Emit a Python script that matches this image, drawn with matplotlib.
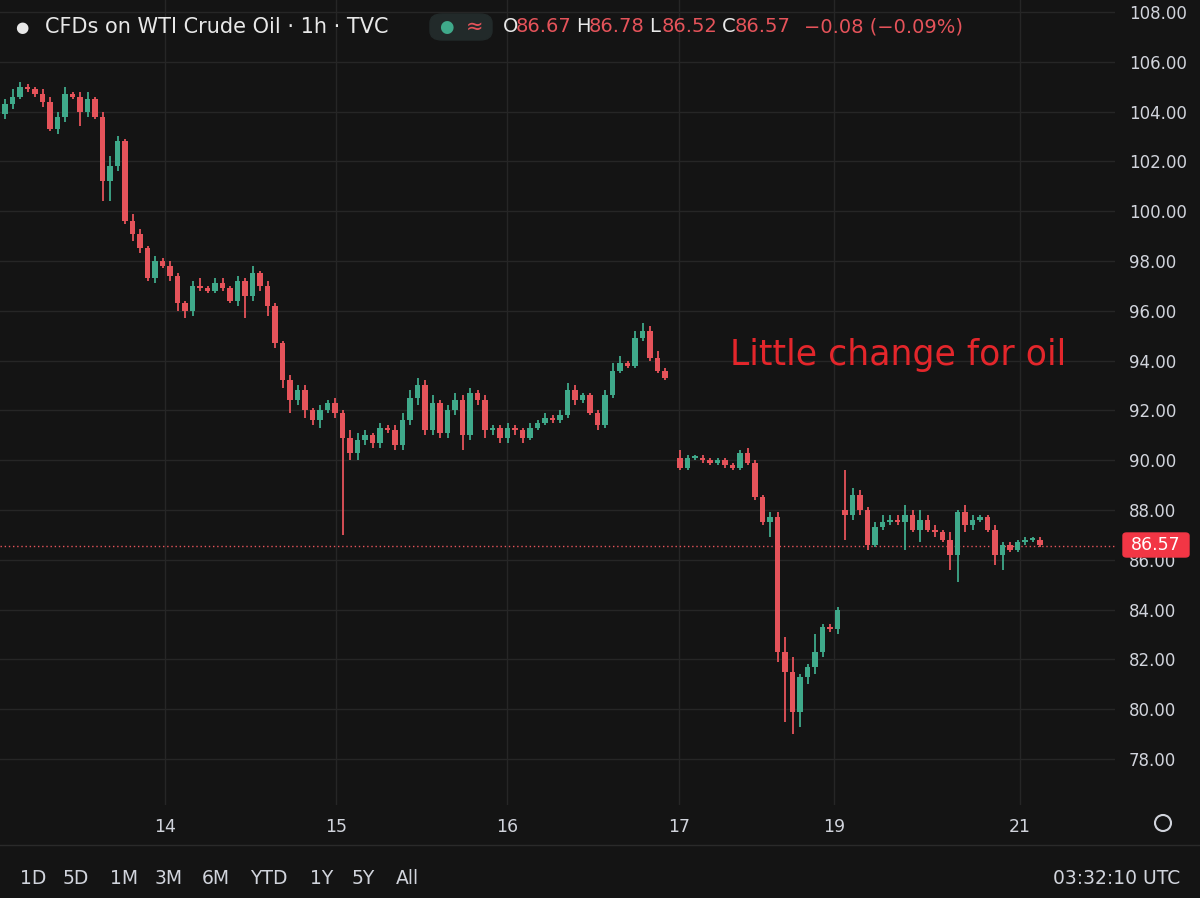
import numpy as np
import matplotlib.pyplot as plt
from matplotlib.patches import FancyBboxPatch, Ellipse

# hourly candles (index = candle slot)
closes = [104.3, 104.6, 105.0, 104.9, 104.7, 104.4, 103.3, 103.8, 104.7, 104.6,
          104.0, 104.5, 103.8, 101.2, 101.8, 102.8, 99.6, 99.1, 98.5, 97.3,
          98.0, 97.8, 97.4, 96.3, 96.0, 97.0, 96.9, 96.8, 97.1, 96.9,
          96.4, 97.2, 96.6, 97.5, 97.0, 96.2, 94.7, 93.2, 92.4, 92.8,
          92.0, 91.6, 92.0, 92.3, 91.9, 90.9, 90.3, 90.8, 91.0, 90.7,
          91.3, 91.2, 90.6, 91.6, 92.5, 93.0, 91.2, 92.3, 91.1, 92.0,
          92.4, 91.0, 92.7, 92.4, 91.2, 91.3, 90.9, 91.3, 91.2, 90.9,
          91.3, 91.5, 91.7, 91.6, 91.8, 92.8, 92.4, 92.6, 91.9, 91.4,
          92.6, 93.6, 93.9, 93.8, 94.9, 95.2, 94.1, 93.6, 93.3,
          89.7, 90.1, 90.1, 90.0, 89.9, 90.0, 89.8, 89.7, 90.3, 89.9,
          88.5, 87.5, 87.7, 82.3, 81.5, 79.9, 81.3, 81.7, 82.3,
          83.3, 83.2, 84.0,
          87.8, 88.6, 88.0, 86.6, 87.3, 87.5, 87.6, 87.5, 87.8, 87.2,
          87.6, 87.2, 87.1, 86.8, 86.2, 87.9, 87.4, 87.6, 87.7, 87.2,
          86.2, 86.6, 86.4, 86.7, 86.8, 86.8, 86.6]
# opens where the session gaps (otherwise open = previous close)
gap_opens = {0: 103.9, 89: 90.1, 111: 88.0}
highs_add = [0.2, 0.3, 0.2, 0.1, 0.1, 0.2, 0.2, 0.2, 0.3, 0.1,
             0.2, 0.3, 0.1, 0.2, 0.4, 0.2, 0.1, 0.3, 0.2, 0.1,
             0.2, 0.1, 0.2, 0.1, 0.1, 0.2, 0.3, 0.1, 0.2, 0.2,
             0.1, 0.2, 0.1, 0.3, 0.1, 0.2, 0.1, 0.1, 0.2, 0.2,
             0.2, 0.1, 0.2, 0.1, 0.2, 0.1, 0.3, 0.3, 0.2, 0.1,
             0.2, 0.1, 0.2, 0.3, 0.3, 0.3, 0.2, 0.3, 0.1, 0.2,
             0.3, 0.2, 0.2, 0.1, 0.2, 0.1, 0.1, 0.2, 0.1, 0.1,
             0.2, 0.1, 0.2, 0.1, 0.2, 0.3, 0.2, 0.1, 0.1, 0.1,
             0.2, 0.3, 0.3, 0.1, 0.3, 0.3, 0.2, 0.3, 0.1,
             0.3, 0.1, 0.1, 0.1, 0.1, 0.1, 0.1, 0.1, 0.1, 0.2,
             0.1, 0.1, 0.2, 0.2, 0.6, 0.6, 0.1, 0.1, 0.7,
             0.1, 0.1, 0.1,
             1.6, 0.3, 0.2, 0.1, 0.2, 0.3, 0.2, 0.2, 0.4, 0.2,
             0.4, 0.2, 0.2, 0.1, 0.3, 0.1, 0.3, 0.2, 0.1, 0.1,
             0.2, 0.1, 0.1, 0.1, 0.1, 0.1, 0.1]
lows_sub = [0.2, 0.2, 0.1, 0.1, 0.1, 0.2, 0.1, 0.2, 0.2, 0.1,
            0.6, 0.2, 0.1, 0.8, 0.8, 0.2, 0.1, 0.3, 0.2, 0.1,
            0.2, 0.1, 0.2, 0.3, 0.3, 0.2, 0.1, 0.1, 0.1, 0.1,
            0.1, 0.2, 0.9, 0.2, 0.2, 0.4, 0.2, 0.3, 0.5, 0.2,
            0.3, 0.2, 0.3, 0.1, 0.2, 3.9, 0.3, 0.3, 0.2, 0.2,
            0.2, 0.1, 0.2, 0.2, 0.2, 0.3, 0.2, 0.2, 0.2, 0.2,
            0.2, 0.6, 0.2, 0.2, 0.3, 0.2, 0.2, 0.2, 0.2, 0.2,
            0.1, 0.1, 0.1, 0.1, 0.1, 0.1, 0.2, 0.1, 0.1, 0.2,
            0.1, 0.1, 0.1, 0.1, 0.1, 0.1, 0.1, 0.1, 0.1,
            0.1, 0.1, 0.1, 0.1, 0.1, 0.1, 0.1, 0.1, 0.1, 0.1,
            0.1, 0.1, 0.6, 0.4, 2.0, 0.9, 0.6, 0.3, 0.3,
            0.2, 0.1, 0.2,
            1.0, 0.2, 0.2, 0.2, 0.1, 0.1, 0.1, 0.1, 1.1, 0.1,
            0.5, 0.1, 0.2, 0.1, 0.6, 1.1, 0.3, 0.2, 0.1, 0.1,
            0.4, 0.6, 0.1, 0.1, 0.1, 0.1, 0.1]

# candle slot of each bar (session gaps leave an empty slot)
slots = list(range(0, 89)) + list(range(90, 112)) + list(range(112, 139))
day_ticks = [21.3, 44.1, 66.9, 89.9, 110.5, 135.3]
day_labels = ['14', '15', '16', '17', '19', '21']
price_ticks = np.arange(78, 109, 2)
last_price = 86.57

BG = '#141414'
GRID = '#262626'
UP = '#3fa98a'
DOWN = '#e5535a'
TXT = '#d1d4dc'

opens = []
for i, c in enumerate(closes):
    opens.append(gap_opens.get(i, closes[i - 1] if i > 0 else c))
opens = np.array(opens)
closes = np.array(closes)
highs = np.maximum(opens, closes) + np.array(highs_add)
lows = np.minimum(opens, closes) - np.array(lows_sub)

fig = plt.figure(figsize=(12, 8.98), dpi=100, facecolor=BG)
ax = fig.add_axes([0, 1 - 805 / 898, 1115 / 1200, 805 / 898])
ax.set_facecolor(BG)
ax.set_xlim(-0.67, 148)
ax.set_ylim(76.15, 108.48)

for y in price_ticks:
    ax.axhline(y, color=GRID, lw=1, zorder=0)
for x in day_ticks:
    ax.axvline(x, color=GRID, lw=1, zorder=0)

idx = np.array(slots[:len(closes)])
col = [UP if c >= o else DOWN for o, c in zip(opens, closes)]
ax.vlines(idx, lows, highs, colors=col, lw=1.3, zorder=2)
ax.bar(idx, np.maximum(np.abs(closes - opens), 0.06), bottom=np.minimum(opens, closes),
       width=0.68, color=col, zorder=3)

ax.axhline(last_price, color=DOWN, lw=1, ls=(0, (1, 2)), zorder=1)

ax.set_xticks(day_ticks)
ax.set_xticklabels(day_labels)
ax.tick_params(axis='x', length=0, colors=TXT, labelsize=12.5, pad=9)
ax.yaxis.tick_right()
ax.set_yticks(price_ticks)
ax.set_yticklabels([f'{v:.2f}' for v in price_ticks])
ax.tick_params(axis='y', length=0, colors=TXT, labelsize=12, pad=10)
for s in ax.spines.values():
    s.set_visible(False)

# last price tag
fig.patches.append(FancyBboxPatch((1123 / 1200, 1 - 557 / 898), 66 / 1200, 24 / 898,
                                  boxstyle='round,pad=0,rounding_size=0.003',
                                  transform=fig.transFigure, color='#f23645', zorder=5))
fig.text(1156 / 1200, 1 - 545 / 898, '86.57', color='white', fontsize=12.5,
         ha='center', va='center', zorder=6)

# header
fig.text(45 / 1200, 1 - 27 / 898, 'CFDs on WTI Crude Oil · 1h · TVC', color='#e8e8e8',
         fontsize=15, va='center')
fig.text(22 / 1200, 1 - 27 / 898, '●', color='#e8e8e8', fontsize=11, va='center', ha='center')
fig.patches.append(FancyBboxPatch((430 / 1200, 1 - 40 / 898), 62 / 1200, 26 / 898,
                                  boxstyle='round,pad=0,rounding_size=0.01',
                                  transform=fig.transFigure, color='#222a2a', zorder=5))
fig.text(446 / 1200, 1 - 27 / 898, '●', color='#3fa98a', fontsize=12, va='center',
         ha='center', zorder=6)
fig.text(475 / 1200, 1 - 27 / 898, '≈', color='#e5535a', fontsize=15, va='center',
         ha='center', zorder=6)
x0 = 503
for lab, val in [('O', '86.67'), ('H', '86.78'), ('L', '86.52'), ('C', '86.57')]:
    fig.text(x0 / 1200, 1 - 27 / 898, lab, color='#e8e8e8', fontsize=14, va='center')
    fig.text((x0 + 13) / 1200, 1 - 27 / 898, val, color=DOWN, fontsize=14, va='center')
    x0 += 13 + 50 + (10 if lab != 'C' else 0)
fig.text(804 / 1200, 1 - 27 / 898, '−0.08 (−0.09%)', color=DOWN, fontsize=14, va='center')

ax.text(730 / 1115, 1 - 355 / 805, 'Little change for oil', transform=ax.transAxes,
        color='#e3262b', fontsize=25, va='center')

# bottom bar
fig.add_artist(plt.Line2D([0, 1], [1 - 845 / 898] * 2, color='#2a2a2a', lw=1))
bx = [20, 63, 110, 155, 202, 250, 310, 352, 396]
for x, lab in zip(bx, ['1D', '5D', '1M', '3M', '6M', 'YTD', '1Y', '5Y', 'All']):
    fig.text(x / 1200, 1 - 878 / 898, lab, color=TXT, fontsize=13.5, va='center')
fig.text(1180 / 1200, 1 - 878 / 898, '03:32:10 UTC', color=TXT, fontsize=13.5,
         va='center', ha='right')
fig.patches.append(Ellipse((1163 / 1200, 1 - 823 / 898), 16 / 1200, 16 / 898,
                           transform=fig.transFigure, fill=False, ec=TXT, lw=1.5))

fig.savefig('out.png', dpi=100, facecolor=BG)
